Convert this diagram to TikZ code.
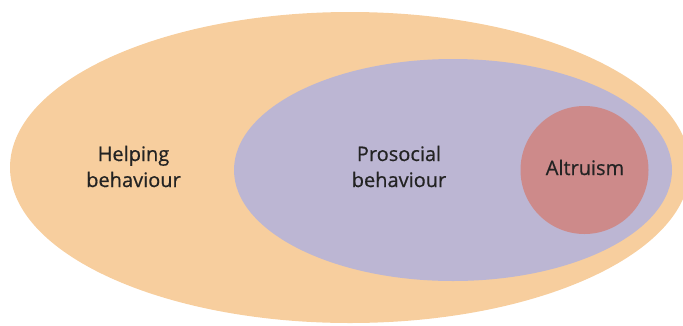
\documentclass[tikz,border=0pt]{standalone}
\usepackage{fontspec}
\setmainfont{Open Sans}
\newfontfamily\lblfont[FakeBold=0.6]{Open Sans}
\definecolor{helpcol}{HTML}{F7CE9E}
\definecolor{procol}{HTML}{BCB6D3}
\definecolor{altcol}{HTML}{CD8A8A}
\definecolor{txtcol}{HTML}{232323}
\begin{document}
\begin{tikzpicture}[x=1pt,y=-1pt,
  lbl/.style={text=txtcol, align=center, inner sep=0pt,
    font=\lblfont\fontsize{20}{26}\selectfont}]
\useasboundingbox (0,0) rectangle (683,325);
\begin{scope}
\clip (0,0) rectangle (683,325);
\fill[helpcol] (350,167.5) ellipse [x radius=340, y radius=155.5];
\end{scope}
\fill[procol] (453,170) ellipse [x radius=219, y radius=111];
\fill[altcol] (584.5,170) circle [radius=64];
\node[lbl] (help) at (133.5,166.5) {Helping\\behaviour};
\node[lbl] (pro) at (399,166.5) {Prosocial\\behaviour};
\node[lbl, anchor=base] (alt) at (585,175) {Altruism};
\end{tikzpicture}
\end{document}
